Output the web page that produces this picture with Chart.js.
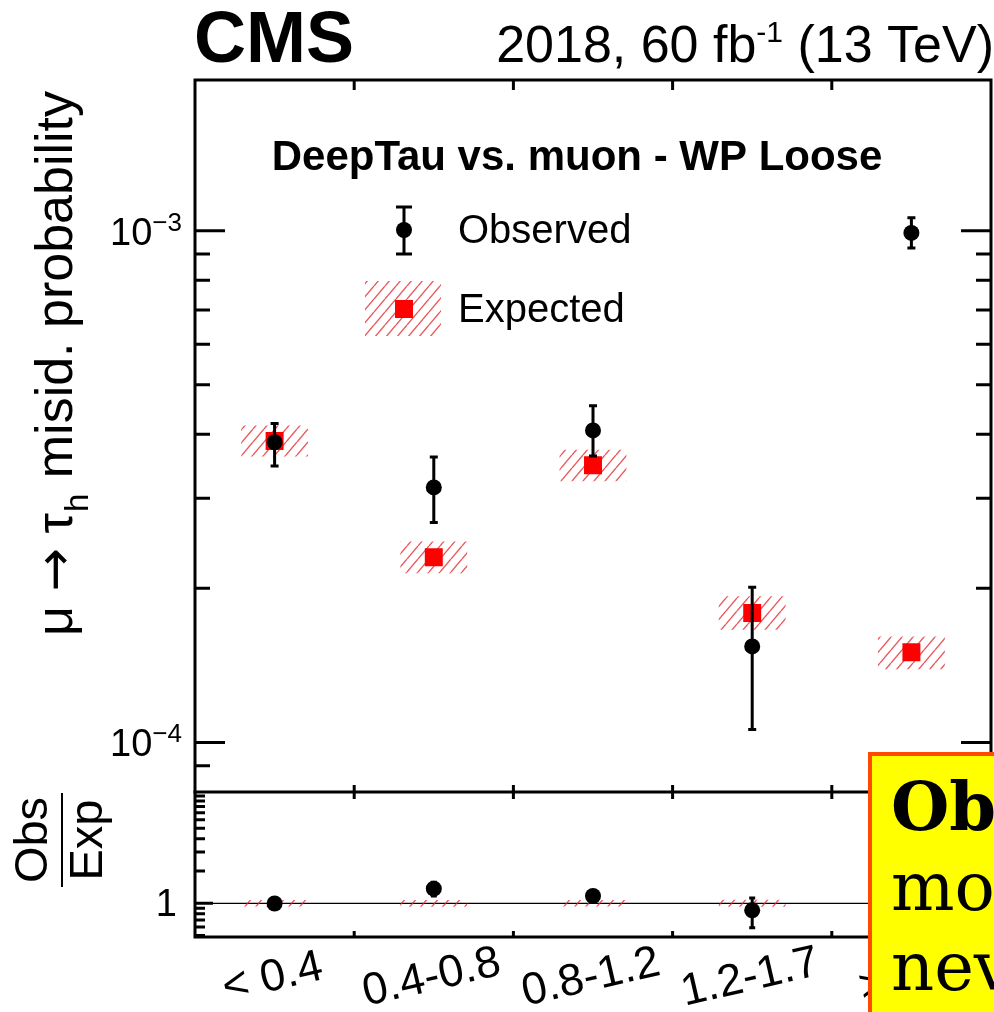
<!DOCTYPE html>
<html>
<head>
<meta charset="utf-8">
<script src="https://cdn.jsdelivr.net/npm/chart.js@4.4.0/dist/chart.umd.min.js"></script>
<style>
  body { margin: 0; background: #fff; overflow: hidden; }
  #wrap { position: relative; width: 994px; height: 1012px; }
  #wrap canvas { position: absolute; left: 0; top: 0; }
  #note {
    position: absolute; left: 868px; top: 752px; width: 260px; height: 320px;
    box-sizing: border-box; background: #ffff00; border: 4px solid #ff4a00;
    padding: 11px 0 0 19px; font-family: "DejaVu Serif", serif; font-size: 67px;
    line-height: 80px; white-space: nowrap; color: #000;
  }
</style>
</head>
<body>
<div id="wrap">
  <canvas id="main" width="994" height="1012"></canvas>
  <canvas id="ratio" width="994" height="1012"></canvas>
  <div id="note"><b>Observed</b><br>more<br>never</div>
</div>
<script>
const bins = ['< 0.4', '0.4-0.8', '0.8-1.2', '1.2-1.7', '> 1.7'];

const observed     = [3.86e-4, 3.15e-4, 4.07e-4, 1.54e-4, 9.90e-4];
const observedUp   = [4.20e-4, 3.61e-4, 4.55e-4, 2.01e-4, 1.06e-3];
const observedDown = [3.47e-4, 2.69e-4, 3.63e-4, 1.06e-4, 9.25e-4];

const expected     = [3.88e-4, 2.30e-4, 3.48e-4, 1.79e-4, 1.50e-4];
const expectedUp   = [4.16e-4, 2.47e-4, 3.73e-4, 1.93e-4, 1.61e-4];
const expectedDown = [3.62e-4, 2.14e-4, 3.24e-4, 1.66e-4, 1.39e-4];

const mainMajor = [1e-4, 1e-3];
const mainMinor = [9e-5, 2e-4, 3e-4, 4e-4, 5e-4, 6e-4, 7e-4, 8e-4, 9e-4];
const ratioMajor = [1];
const ratioMinor = [0.5, 0.6, 0.7, 0.8, 0.9, 2, 3, 4, 5, 6, 7, 8, 9, 10];

// obs / exp for the lower panel
const ratio     = observed.map((v, i) => v / expected[i]);
const ratioUp   = observedUp.map((v, i) => v / expected[i]);
const ratioDown = observedDown.map((v, i) => v / expected[i]);
const bandUp    = expectedUp.map((v, i) => v / expected[i]);
const bandDown  = expectedDown.map((v, i) => v / expected[i]);

const FONT = '"Liberation Sans", Arial, sans-serif';

function makeHatch(ctx) {
  const w = 11, h = 13;
  const tile = document.createElement('canvas');
  tile.width = w; tile.height = h;
  const g = tile.getContext('2d');
  g.strokeStyle = 'rgba(230, 45, 50, 0.8)';
  g.lineWidth = 1.4;
  g.beginPath();
  g.moveTo(0, h); g.lineTo(w, 0);
  g.moveTo(-w, h); g.lineTo(0, 0);
  g.moveTo(w, h); g.lineTo(2 * w, 0);
  g.stroke();
  return ctx.createPattern(tile, 'repeat');
}

function binEdges(x) {
  const edges = [];
  for (let i = 0; i < bins.length - 1; i++) {
    edges.push((x.getPixelForValue(i) + x.getPixelForValue(i + 1)) / 2);
  }
  return edges;
}

function yTicks(ctx, a, y, values, len) {
  ctx.beginPath();
  values.forEach(v => {
    const py = y.getPixelForValue(v);
    if (py < a.top || py > a.bottom) return;
    ctx.moveTo(a.left, py); ctx.lineTo(a.left + len, py);
    ctx.moveTo(a.right, py); ctx.lineTo(a.right - len, py);
  });
  ctx.stroke();
}

function errorBars(chart, ups, downs, cap) {
  const {ctx, chartArea: a, scales: {x, y}} = chart;
  ctx.save();
  ctx.beginPath();
  ctx.rect(a.left, a.top, a.width, a.height);
  ctx.clip();
  ctx.strokeStyle = '#000';
  ctx.lineWidth = 3;
  ups.forEach((u, i) => {
    const px = x.getPixelForValue(i);
    const yt = y.getPixelForValue(u);
    const yb = y.getPixelForValue(downs[i]);
    ctx.beginPath();
    ctx.moveTo(px, yt); ctx.lineTo(px, yb);
    ctx.moveTo(px - cap, yt); ctx.lineTo(px + cap, yt);
    ctx.moveTo(px - cap, yb); ctx.lineTo(px + cap, yb);
    ctx.stroke();
  });
  ctx.restore();
}

function drawPow(ctx, xr, yb, exp) {
  ctx.textAlign = 'left';
  ctx.textBaseline = 'alphabetic';
  ctx.font = `26px ${FONT}`;
  const ew = ctx.measureText(exp).width;
  ctx.font = `38px ${FONT}`;
  const bw = ctx.measureText('10').width;
  ctx.fillText('10', xr - ew - bw, yb);
  ctx.font = `26px ${FONT}`;
  ctx.fillText(exp, xr - ew, yb - 14);
}

const mainCanvas = document.getElementById('main');
const ratioCanvas = document.getElementById('ratio');
const hatchMain = makeHatch(mainCanvas.getContext('2d'));
const hatchRatio = makeHatch(ratioCanvas.getContext('2d'));

const mainDecor = {
  id: 'mainDecor',
  afterDatasetDraw(chart, args) {
    if (args.index === 1) errorBars(chart, observedUp, observedDown, 4);
  },
  afterDraw(chart) {
    const {ctx, chartArea: a, scales: {x, y}} = chart;
    ctx.save();
    ctx.strokeStyle = '#000';
    ctx.fillStyle = '#000';
    ctx.lineWidth = 3;
    ctx.lineCap = 'square';

    // frame (bottom edge comes from the ratio panel)
    ctx.beginPath();
    ctx.moveTo(a.left, a.bottom);
    ctx.lineTo(a.left, a.top);
    ctx.lineTo(a.right, a.top);
    ctx.lineTo(a.right, a.bottom);
    ctx.stroke();

    ctx.lineCap = 'butt';
    yTicks(ctx, a, y, mainMajor, 30);
    yTicks(ctx, a, y, mainMinor, 15);
    ctx.beginPath();
    binEdges(x).forEach(px => {
      ctx.moveTo(px, a.top); ctx.lineTo(px, a.top + 10);
      ctx.moveTo(px, a.bottom); ctx.lineTo(px, a.bottom - 7);
    });
    ctx.stroke();

    // y tick labels
    drawPow(ctx, 182, y.getPixelForValue(1e-3) + 14, '\u22123');
    drawPow(ctx, 182, y.getPixelForValue(1e-4) + 14, '\u22124');

    // header
    ctx.textAlign = 'left';
    ctx.textBaseline = 'alphabetic';
    ctx.font = `bold 72px ${FONT}`;
    ctx.fillText('CMS', 194, 62);

    ctx.font = `52px ${FONT}`;
    const tail = ' (13 TeV)';
    const head = '2018, 60 fb';
    const tw = ctx.measureText(tail).width;
    const hw = ctx.measureText(head).width;
    ctx.font = `30px ${FONT}`;
    const sw = ctx.measureText('-1').width;
    const xr = 994 - tw;
    ctx.font = `52px ${FONT}`;
    ctx.fillText(tail, xr, 62);
    ctx.font = `30px ${FONT}`;
    ctx.fillText('-1', xr - sw, 42);
    ctx.font = `52px ${FONT}`;
    ctx.fillText(head, xr - sw - hw, 62);

    // plot title
    ctx.textAlign = 'center';
    ctx.font = `bold 42px ${FONT}`;
    ctx.fillText('DeepTau vs. muon - WP Loose', 577, 170);

    // legend: observed
    ctx.lineWidth = 3;
    ctx.beginPath();
    ctx.moveTo(404, 207); ctx.lineTo(404, 254);
    ctx.moveTo(396, 207); ctx.lineTo(412, 207);
    ctx.moveTo(396, 254); ctx.lineTo(412, 254);
    ctx.stroke();
    ctx.beginPath();
    ctx.arc(404, 230, 8, 0, Math.PI * 2);
    ctx.fill();
    // legend: expected
    ctx.fillStyle = hatchMain;
    ctx.fillRect(365, 281, 76, 55);
    ctx.fillStyle = '#ff0000';
    ctx.fillRect(395, 300, 18, 18);
    ctx.fillStyle = '#000';
    ctx.textAlign = 'left';
    ctx.textBaseline = 'middle';
    ctx.font = `40px ${FONT}`;
    ctx.fillText('Observed', 458, 232);
    ctx.fillText('Expected', 458, 311);

    // y title
    ctx.save();
    ctx.translate(72, 636);
    ctx.rotate(-Math.PI / 2);
    ctx.textAlign = 'left';
    ctx.textBaseline = 'alphabetic';
    ctx.font = `52px ${FONT}`;
    let px = 0;
    ctx.fillText('\u03bc ', px, 0);
    px += ctx.measureText('\u03bc ').width;
    ctx.font = `52px "DejaVu Sans", ${FONT}`;
    ctx.fillText('\u2192', px, 0);
    px += ctx.measureText('\u2192').width;
    ctx.font = `52px ${FONT}`;
    ctx.fillText(' \u03c4', px, 0);
    px += ctx.measureText(' \u03c4').width;
    ctx.font = `33px ${FONT}`;
    ctx.fillText('h', px + 1, 16);
    px += ctx.measureText('h').width + 2;
    ctx.font = `52px ${FONT}`;
    ctx.fillText(' misid. probability', px, 0);
    ctx.restore();

    ctx.restore();
  }
};

const ratioDecor = {
  id: 'ratioDecor',
  beforeDatasetsDraw(chart) {
    const {ctx, chartArea: a, scales: {y}} = chart;
    const py = y.getPixelForValue(1);
    ctx.save();
    ctx.strokeStyle = '#000';
    ctx.lineWidth = 1.2;
    ctx.beginPath();
    ctx.moveTo(a.left, py); ctx.lineTo(a.right, py);
    ctx.stroke();
    ctx.restore();
  },
  afterDatasetDraw(chart, args) {
    if (args.index === 0) errorBars(chart, ratioUp, ratioDown, 3);
  },
  afterDraw(chart) {
    const {ctx, chartArea: a, scales: {x, y}} = chart;
    ctx.save();
    ctx.strokeStyle = '#000';
    ctx.fillStyle = '#000';
    ctx.lineWidth = 3;
    ctx.lineJoin = 'miter';
    ctx.strokeRect(a.left, a.top, a.width, a.height);

    yTicks(ctx, a, y, ratioMajor, 18);
    yTicks(ctx, a, y, ratioMinor, 10);
    ctx.beginPath();
    binEdges(x).forEach(px => {
      ctx.moveTo(px, a.top); ctx.lineTo(px, a.top + 7);
      ctx.moveTo(px, a.bottom); ctx.lineTo(px, a.bottom - 6);
    });
    ctx.stroke();

    ctx.textAlign = 'right';
    ctx.textBaseline = 'alphabetic';
    ctx.font = `38px ${FONT}`;
    ctx.fillText('1', 177, y.getPixelForValue(1) + 13);

    // Obs / Exp title
    ctx.save();
    ctx.translate(0, 840);
    ctx.rotate(-Math.PI / 2);
    ctx.textAlign = 'center';
    ctx.font = `47px ${FONT}`;
    ctx.fillText('Obs', 0, 47);
    ctx.fillText('Exp', 0, 102);
    ctx.lineWidth = 2;
    ctx.beginPath();
    ctx.moveTo(-47, 62); ctx.lineTo(47, 62);
    ctx.stroke();
    ctx.restore();

    // bin labels
    ctx.font = `45px ${FONT}`;
    ctx.textAlign = 'center';
    ctx.textBaseline = 'middle';
    bins.forEach((b, i) => {
      ctx.save();
      ctx.translate(x.getPixelForValue(i) - 2, 978);
      ctx.rotate(-13 * Math.PI / 180);
      ctx.fillText(b, 0, 0);
      ctx.restore();
    });
    ctx.restore();
  }
};

new Chart(mainCanvas, {
  type: 'bar',
  data: {
    labels: bins,
    datasets: [
      {
        type: 'bar',
        label: 'Expected uncertainty',
        data: bins.map((_, i) => [expectedDown[i], expectedUp[i]]),
        backgroundColor: hatchMain,
        borderWidth: 0,
        barPercentage: 0.42,
        categoryPercentage: 1,
        order: 3
      },
      {
        type: 'line',
        label: 'Expected',
        data: expected,
        showLine: false,
        pointStyle: 'rect',
        pointRadius: 12.7,
        pointBackgroundColor: '#ff0000',
        pointBorderWidth: 0,
        order: 2
      },
      {
        type: 'line',
        label: 'Observed',
        data: observed,
        showLine: false,
        pointStyle: 'circle',
        pointRadius: 8,
        pointBackgroundColor: '#000',
        pointBorderWidth: 0,
        order: 1
      }
    ]
  },
  options: {
    responsive: false,
    animation: false,
    layout: { autoPadding: false, padding: { left: 195, top: 80, right: 3, bottom: 220 } },
    plugins: { legend: { display: false }, tooltip: { enabled: false } },
    scales: {
      x: { type: 'category', offset: true, display: false },
      y: { type: 'logarithmic', min: 8.0e-5, max: 1.97e-3, bounds: 'data', display: false }
    }
  },
  plugins: [mainDecor]
});

new Chart(ratioCanvas, {
  type: 'bar',
  data: {
    labels: bins,
    datasets: [
      {
        type: 'bar',
        label: 'Expected uncertainty',
        data: bins.map((_, i) => [bandDown[i], bandUp[i]]),
        backgroundColor: hatchRatio,
        borderWidth: 0,
        barPercentage: 0.42,
        categoryPercentage: 1,
        order: 2
      },
      {
        type: 'line',
        label: 'Obs / Exp',
        data: ratio,
        showLine: false,
        pointStyle: 'circle',
        pointRadius: 8,
        pointBackgroundColor: '#000',
        pointBorderWidth: 0,
        order: 1
      }
    ]
  },
  options: {
    responsive: false,
    animation: false,
    layout: { autoPadding: false, padding: { left: 195, top: 792, right: 3, bottom: 75 } },
    plugins: { legend: { display: false }, tooltip: { enabled: false } },
    scales: {
      x: { type: 'category', offset: true, display: false },
      y: { type: 'logarithmic', min: 0.485, max: 10.9, bounds: 'data', display: false }
    }
  },
  plugins: [ratioDecor]
});
</script>
</body>
</html>
